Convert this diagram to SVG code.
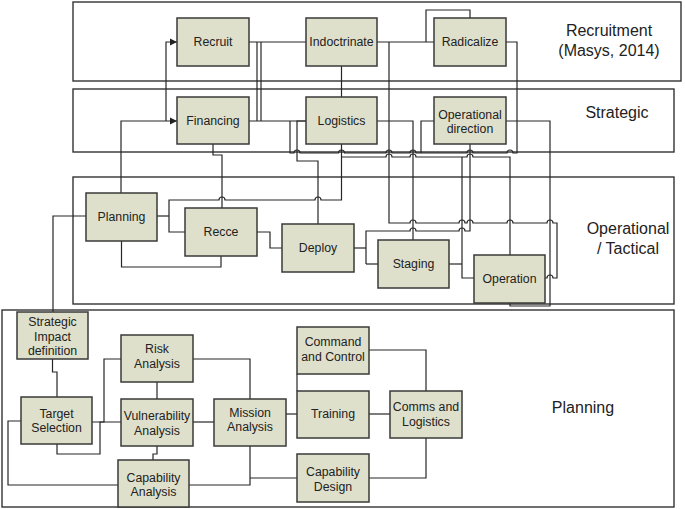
<svg xmlns="http://www.w3.org/2000/svg" width="685" height="509" viewBox="0 0 685 509">
<style>
.band{fill:none;stroke:#333;stroke-width:1.4}
.node rect{fill:#dfe0cb;stroke:#3a3a3a;stroke-width:1.5}
.node text{font-family:"Liberation Sans",Arial,sans-serif;font-size:12.3px;fill:#222;text-anchor:middle}
.lbl{font-family:"Liberation Sans",Arial,sans-serif;font-size:16px;fill:#222;text-anchor:middle}
#connectors path{fill:none;stroke:#262626;stroke-width:1.2}
</style>
<defs>
<marker id="arr" markerWidth="8" markerHeight="8" refX="7" refY="4" orient="auto" markerUnits="userSpaceOnUse">
<path d="M0,0.5 L7,4 L0,7.5 Z" fill="#222"/>
</marker>
</defs>
<rect width="685" height="509" fill="#fff"/>
<g id="bands">
<rect class="band" x="73" y="2" width="608" height="79"/>
<rect class="band" x="73" y="89" width="601" height="63"/>
<rect class="band" x="73" y="177" width="601" height="127"/>
<rect class="band" x="2" y="310" width="672" height="197"/>
<text class="lbl" x="609" y="36">Recruitment</text>
<text class="lbl" x="609" y="56">(Masys, 2014)</text>
<text class="lbl" x="617" y="118">Strategic</text>
<text class="lbl" x="628" y="234">Operational</text>
<text class="lbl" x="628" y="254">/ Tactical</text>
<text class="lbl" x="583" y="413">Planning</text>
</g>
<g id="connectors">
<path d="M121 193 V121 H177" marker-end="url(#arr)"/>
<path d="M166 121 V42 H177" marker-end="url(#arr)"/>
<path d="M249 42 H306"/>
<path d="M249 121 H306"/>
<path d="M257 42 V121"/>
<path d="M261 42 V121"/>
<path d="M341.5 66 V97"/>
<path d="M377 42 H434"/>
<path d="M426 42 V10 H470 V18"/>
<path d="M389 42 V223 H410 a3 3 0 0 1 6 0 H459 a3 3 0 0 1 6 0 H467 a3 3 0 0 1 6 0 H507 a3 3 0 0 1 6 0 H547 a3 3 0 0 1 6 0 H557 V278 H553 a3 3 0 0 0 -6 0 H545"/>
<path d="M290 121 V153 H294 a3 3 0 0 1 6 0 H338.5 a3 3 0 0 1 6 0 H386 a3 3 0 0 1 6 0 H410 a3 3 0 0 1 6 0 H467 a3 3 0 0 1 6 0 H507 a3 3 0 0 1 6 0 H517 V42 H506"/>
<path d="M434 121 H421 V153"/>
<path d="M306 121 H297 V161 H318 V224"/>
<path d="M341.5 144 V200 H321 a3 3 0 0 0 -6 0 H225 a3 3 0 0 0 -6 0 H169 V232 H185"/>
<path d="M157 216 H169"/>
<path d="M341.5 157 H386 a3 3 0 0 1 6 0 H410 a3 3 0 0 1 6 0 H467 a3 3 0 0 1 6 0 H510 V255"/>
<path d="M462 157 V278 H474"/>
<path d="M449 264 H462"/>
<path d="M213 144 V155 H222 V208"/>
<path d="M121.5 241 V267 H221 V256"/>
<path d="M86 216 H53 V312"/>
<path d="M257 232 H270 V248 H282"/>
<path d="M354 248 H366"/>
<path d="M366 264 V231 H410 a3 3 0 0 1 6 0 H459 a3 3 0 0 1 6 0 H470 V144"/>
<path d="M378 264 H366"/>
<path d="M377 121 H413 V240"/>
<path d="M506 121 H550 V306 H510 V303"/>
<path d="M52.5 359 V372 H57 V397"/>
<path d="M92 422 H104 V359 H121"/>
<path d="M57 444 V454 H100 V422 H121"/>
<path d="M21 421 H8 V485 H118"/>
<path d="M157 382 V399"/>
<path d="M193 359 H250 V399"/>
<path d="M193 422 H214"/>
<path d="M157 446 V454 H153 V460"/>
<path d="M189 485 H250 V446"/>
<path d="M250 478 H297"/>
<path d="M286 414 H297"/>
<path d="M297 374 V391"/>
<path d="M369 414 H390"/>
<path d="M369 350 H426 V391"/>
<path d="M426 438 V478 H369"/>
</g>
<g id="recruit" class="node"><rect x="177" y="18" width="72" height="48"/><text x="213" y="46">Recruit</text></g>
<g id="indoctrinate" class="node"><rect x="306" y="18" width="71" height="48"/><text x="341.5" y="46">Indoctrinate</text></g>
<g id="radicalize" class="node"><rect x="434" y="18" width="72" height="48"/><text x="470" y="46">Radicalize</text></g>
<g id="financing" class="node"><rect x="177" y="97" width="72" height="47"/><text x="213" y="125">Financing</text></g>
<g id="logistics" class="node"><rect x="306" y="97" width="71" height="47"/><text x="341.5" y="125">Logistics</text></g>
<g id="opdirection" class="node"><rect x="434" y="97" width="72" height="47"/><text x="470" y="119">Operational</text><text x="470" y="133">direction</text></g>
<g id="planning" class="node"><rect x="86" y="193" width="71" height="48"/><text x="121.5" y="221">Planning</text></g>
<g id="recce" class="node"><rect x="185" y="208" width="72" height="48"/><text x="221" y="236">Recce</text></g>
<g id="deploy" class="node"><rect x="282" y="224" width="72" height="48"/><text x="318" y="252">Deploy</text></g>
<g id="staging" class="node"><rect x="378" y="240" width="71" height="48"/><text x="413.5" y="268">Staging</text></g>
<g id="operation" class="node"><rect x="474" y="255" width="71" height="48"/><text x="509.5" y="283">Operation</text></g>
<g id="sid" class="node"><rect x="17" y="312" width="71" height="47"/><text x="52.5" y="326">Strategic</text><text x="52.5" y="340.5">Impact</text><text x="52.5" y="355">definition</text></g>
<g id="risk" class="node"><rect x="121" y="335" width="72" height="47"/><text x="157" y="353">Risk</text><text x="157" y="368">Analysis</text></g>
<g id="target" class="node"><rect x="21" y="397" width="71" height="47"/><text x="56.5" y="418">Target</text><text x="56.5" y="432">Selection</text></g>
<g id="vulnerability" class="node"><rect x="121" y="399" width="72" height="47"/><text x="157" y="420">Vulnerability</text><text x="157" y="435">Analysis</text></g>
<g id="mission" class="node"><rect x="214" y="399" width="72" height="47"/><text x="250" y="417">Mission</text><text x="250" y="431">Analysis</text></g>
<g id="capanalysis" class="node"><rect x="118" y="460" width="71" height="47"/><text x="153.5" y="482">Capability</text><text x="153.5" y="496">Analysis</text></g>
<g id="command" class="node"><rect x="297" y="327" width="72" height="47"/><text x="333" y="346">Command</text><text x="333" y="361">and Control</text></g>
<g id="training" class="node"><rect x="297" y="391" width="72" height="47"/><text x="333" y="418">Training</text></g>
<g id="comms" class="node"><rect x="390" y="391" width="72" height="47"/><text x="426" y="411">Comms and</text><text x="426" y="426">Logistics</text></g>
<g id="capdesign" class="node"><rect x="297" y="454" width="72" height="48"/><text x="333" y="476">Capability</text><text x="333" y="491">Design</text></g>
</svg>
